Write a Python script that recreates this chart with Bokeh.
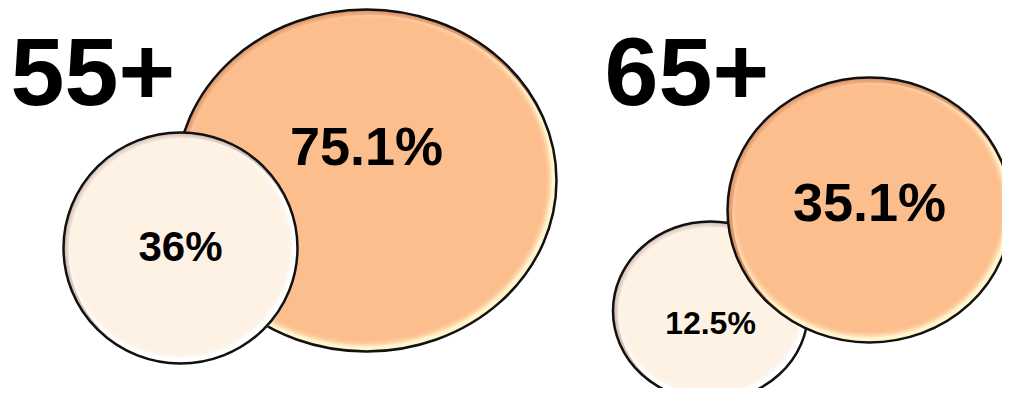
from bokeh.plotting import figure
from bokeh.models import Range1d, ColumnDataSource
from bokeh.core.properties import value
from bokeh.embed import file_html
from bokeh.resources import INLINE

# ---- data ----
groups = ["55+", "65+"]
big_values = [75.1, 35.1]     # orange circles
small_values = [36, 12.5]     # cream circles

# ---- layout (pixel coordinates of the page area) ----
big_cx = [366, 869]
big_cy = [180, 209.5]
big_w = [380, 284]
big_h = [342, 265]
small_cx = [180, 710]
small_cy = [247.5, 310.5]
small_w = [234, 195]
small_h = [231, 179]
small_on_top = [True, False]
title_x = [10, 604]
title_y = [71, 71]
big_label_y = [145, 201]
small_label_y = [246, 322]
big_font = ["54px", "54px"]
small_font = ["42px", "32px"]

ORANGE = dict(main="#FDBE8E", rim="#D8946A", hi="#FFF4CC")
CREAM = dict(main="#FDF2E4", rim="#D6C0B8", hi="#FFFFFF")

p = figure(width=1002, height=388, output_backend="svg", toolbar_location=None,
           x_range=Range1d(0, 1002), y_range=Range1d(388, 0),
           min_border=0)
p.axis.visible = False
p.grid.visible = False
p.outline_line_color = None
p.background_fill_color = "white"
p.border_fill_color = "white"


def bubble(cx, cy, w, h, pal):
    # rim / shadow
    p.ellipse(x=[cx], y=[cy], width=[w], height=[h], fill_color=pal["rim"],
              line_color=None)
    # highlight, pushed to lower right
    p.ellipse(x=[cx + 2.5], y=[cy + 3.0], width=[w - 5], height=[h - 5],
              fill_color=pal["hi"], line_color=None)
    # soft body
    for k, a in [(7, 0.3), (10, 0.4), (13, 0.5), (16, 0.7), (19, 1.0)]:
        p.ellipse(x=[cx - 1.0], y=[cy - 1.5], width=[w - k], height=[h - k],
                  fill_color=pal["main"], fill_alpha=a, line_color=None)
    # outline
    p.ellipse(x=[cx], y=[cy], width=[w], height=[h], fill_color=None,
              line_color="#111111", line_width=2.5)


for i in range(len(groups)):
    items = [("big", big_cx[i], big_cy[i], big_w[i], big_h[i], ORANGE),
             ("small", small_cx[i], small_cy[i], small_w[i], small_h[i], CREAM)]
    if not small_on_top[i]:
        items = items[::-1]
    for _, cx, cy, w, h, pal in items:
        bubble(cx, cy, w, h, pal)


def fmt(v):
    return f"{v:g}%"


src_big = ColumnDataSource(dict(x=big_cx, y=big_label_y,
                                t=[fmt(v) for v in big_values], fs=big_font))
src_small = ColumnDataSource(dict(x=small_cx, y=small_label_y,
                                  t=[fmt(v) for v in small_values], fs=small_font))
src_title = ColumnDataSource(dict(x=title_x, y=title_y, t=groups))

for src in (src_big, src_small):
    p.text(x="x", y="y", text="t", source=src, text_align="center",
           text_baseline="middle", text_font=value("Liberation Sans"),
           text_font_style="bold", text_font_size="fs", text_color="black")

p.text(x="x", y="y", text="t", source=src_title, text_align="left",
       text_baseline="middle", text_font=value("Liberation Sans"),
       text_font_style="bold", text_font_size="97px", text_color="black")

open("out.html", "w").write(file_html(p, INLINE))
